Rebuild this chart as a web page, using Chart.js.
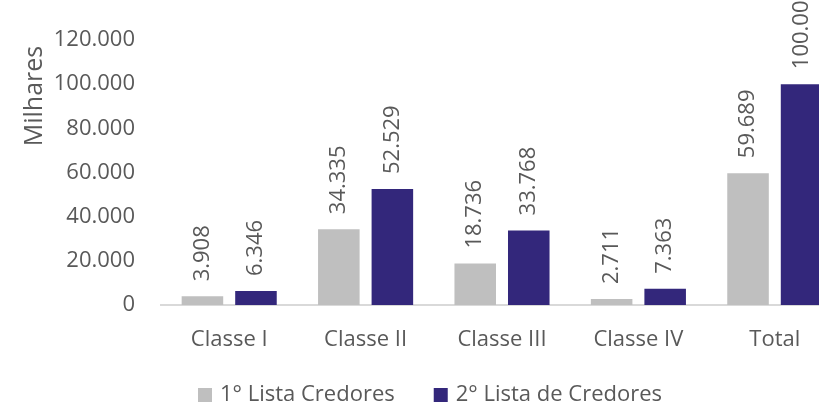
<!DOCTYPE html>
<html>
<head>
<meta charset="utf-8">
<script src="https://cdn.jsdelivr.net/npm/chart.js@4/dist/chart.umd.min.js"></script>
<style>
html,body{margin:0;padding:0;background:#fff;overflow:hidden;}
canvas{display:block;}
</style>
</head>
<body>
<canvas id="c" width="860" height="405" style="width:860px;height:405px"></canvas>
<script>
const categories = ["Classe I", "Classe II", "Classe III", "Classe IV", "Total"];
const lista1 = [3908, 34335, 18736, 2711, 59689];
const lista2 = [6346, 52529, 33768, 7363, 100000];
const seriesNames = ["1° Lista Credores", "2° Lista de Credores"];
const yTicks = [0, 20000, 40000, 60000, 80000, 100000, 120000];
const axisTitle = "Milhares";

const FONT = "'Open Sans', 'Noto Sans', sans-serif";
const TXT = "#595959";

function fmt(v) {
  return String(Math.round(v)).replace(/\B(?=(\d{3})+(?!\d))/g, ".");
}

const labelPlugin = {
  id: "valueLabels",
  afterDatasetsDraw(chart) {
    const ctx = chart.ctx;
    ctx.save();
    ctx.font = "22px " + FONT;
    ctx.fillStyle = TXT;
    ctx.textAlign = "left";
    ctx.textBaseline = "middle";
    chart.data.datasets.forEach((ds, i) => {
      const meta = chart.getDatasetMeta(i);
      meta.data.forEach((bar, j) => {
        ctx.save();
        ctx.translate(bar.x, bar.y - 15);
        ctx.rotate(-Math.PI / 2);
        ctx.fillText(fmt(ds.data[j]), 0, 0);
        ctx.restore();
      });
    });
    ctx.restore();
  }
};

const titlePlugin = {
  id: "yTitle",
  afterDraw(chart) {
    const ctx = chart.ctx;
    ctx.save();
    ctx.font = "25px " + FONT;
    ctx.fillStyle = TXT;
    ctx.textAlign = "center";
    ctx.textBaseline = "alphabetic";
    ctx.translate(42, 96);
    ctx.rotate(-Math.PI / 2);
    ctx.fillText(axisTitle, 0, 0);
    ctx.restore();
  }
};

const legendPlugin = {
  id: "bottomLegend",
  afterDraw(chart) {
    const ctx = chart.ctx;
    const box = 14, gapText = 8, gapItem = 39, cy = 395;
    ctx.save();
    ctx.font = "22px " + FONT;
    ctx.textBaseline = "middle";
    ctx.textAlign = "left";
    const items = chart.data.datasets.map(ds => ({ text: ds.label, color: ds.backgroundColor, w: ctx.measureText(ds.label).width }));
    let total = 0;
    items.forEach((it, i) => { total += box + gapText + it.w + (i ? gapItem : 0); });
    let x = chart.width / 2 - total / 2;
    items.forEach(it => {
      ctx.fillStyle = it.color;
      ctx.fillRect(x, cy - box / 2, box, box);
      ctx.fillStyle = TXT;
      ctx.fillText(it.text, x + box + gapText, cy);
      x += box + gapText + it.w + gapItem;
    });
    ctx.restore();
  }
};

new Chart(document.getElementById("c"), {
  type: "bar",
  data: {
    labels: categories,
    datasets: [
      { label: seriesNames[0], data: lista1, backgroundColor: "#BFBFBF", categoryPercentage: 0.785, barPercentage: 0.776 },
      { label: seriesNames[1], data: lista2, backgroundColor: "#33277B", categoryPercentage: 0.785, barPercentage: 0.776 }
    ]
  },
  options: {
    responsive: false,
    animation: false,
    devicePixelRatio: 1,
    layout: { padding: { top: 40, right: 17, left: 0, bottom: 43 } },
    plugins: {
      legend: { display: false },
      tooltip: { enabled: false },
      title: { display: false }
    },
    scales: {
      x: {
        grid: { display: false, drawTicks: false },
        border: { display: true, color: "#D9D9D9", width: 2 },
        ticks: { font: { family: FONT, size: 22 }, color: TXT, padding: 22 },
        afterFit(s) { s.height = 57; }
      },
      y: {
        min: 0,
        max: 120000,
        grid: { display: false, drawTicks: false },
        border: { display: false },
        afterBuildTicks(s) { s.ticks = yTicks.map(v => ({ value: v })); },
        ticks: {
          font: { family: FONT, size: 22 },
          color: TXT,
          padding: 26,
          callback: v => fmt(v)
        },
        afterFit(s) { s.width = 161; }
      }
    }
  },
  plugins: [labelPlugin, titlePlugin, legendPlugin]
});
</script>
</body>
</html>
